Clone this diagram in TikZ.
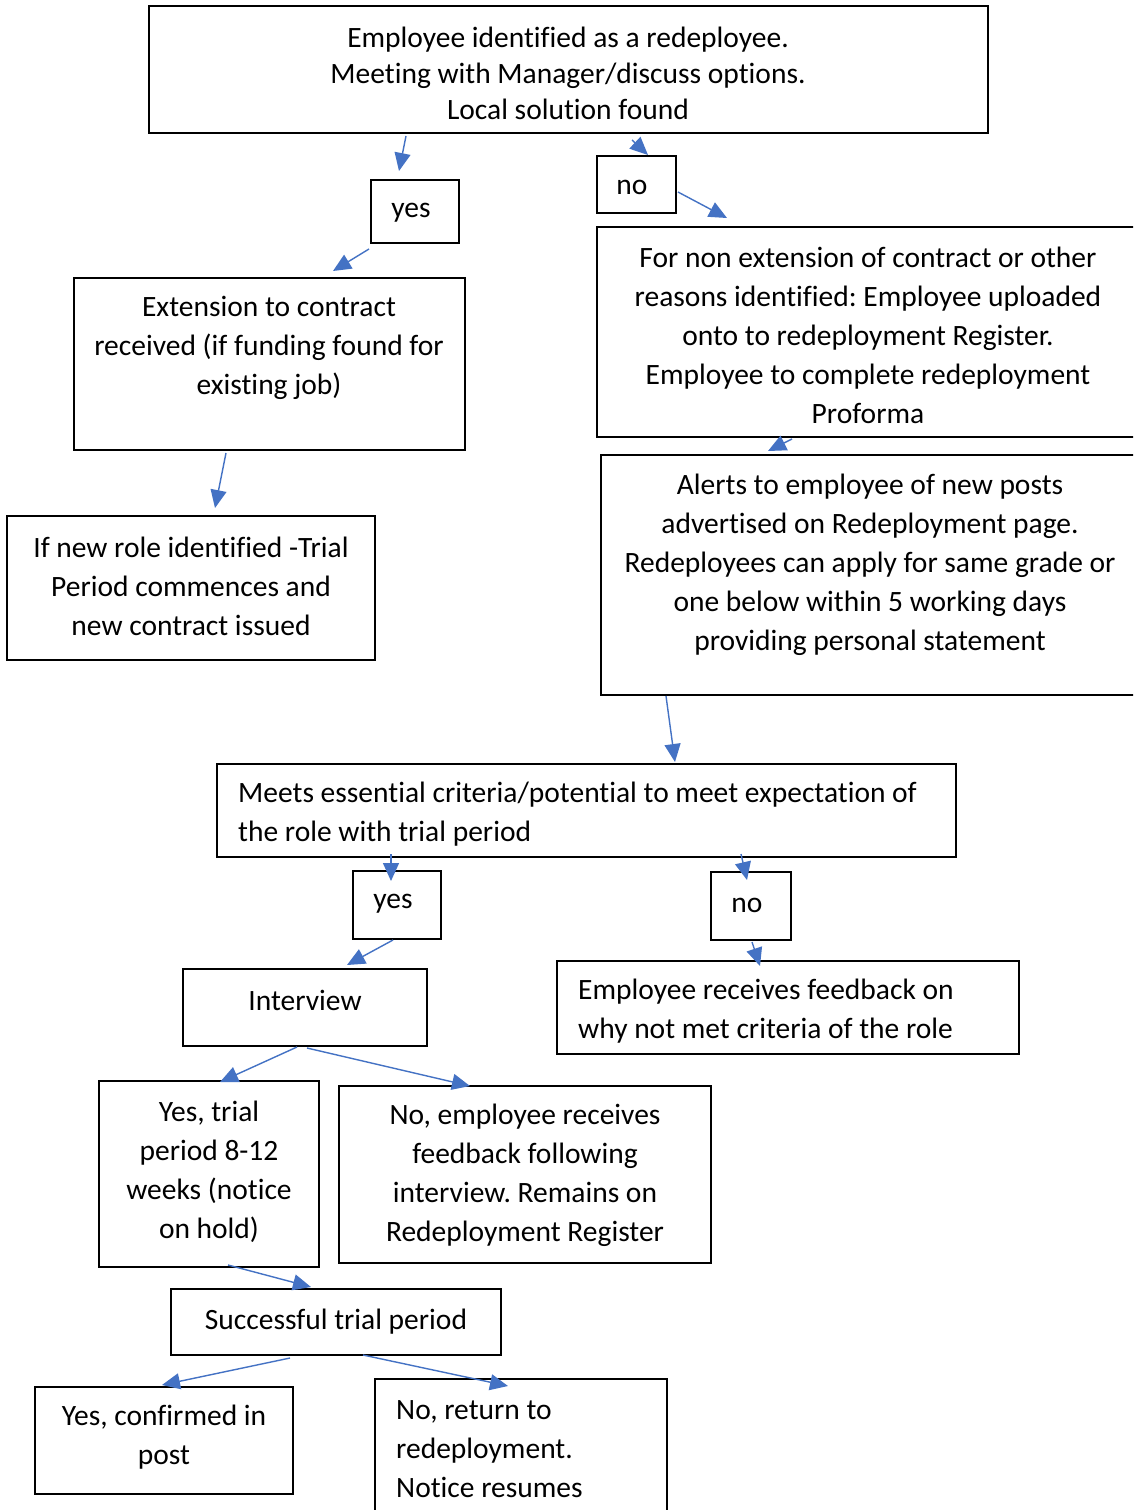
\documentclass[tikz,border=0pt]{standalone}
\usepackage{fontspec}
\setmainfont[Ligatures=NoCommon]{Carlito}
\frenchspacing
\usetikzlibrary{arrows.meta,calc}
\definecolor{arrblue}{HTML}{4472C4}
\tikzset{
  box/.style={draw=black, line width=2pt, inner sep=0pt},
  txt/.style={font=\fontsize{29.5}{39}\selectfont, align=center, inner sep=0pt, yshift=-2.5pt},
  ltxt/.style={txt, align=left, anchor=west},
  arr/.style={draw=arrblue, line width=1.4pt, -{Triangle[length=18pt,width=16pt]}}
}
\begin{document}
\begin{tikzpicture}[x=1pt,y=-1pt]
\path[use as bounding box, fill=white] (0,0) rectangle (1133,1510);
\clip (0,0) rectangle (1133,1510);
% boxes
\node[box, minimum width=839pt, minimum height=127pt] (b1) at (568.5,69.5) {};
\node[box, minimum width=88pt, minimum height=63pt] (yes1) at (415,211.5) {};
\node[box, minimum width=79pt, minimum height=57pt] (no1) at (636.5,184.5) {};
\node[box, minimum width=391pt, minimum height=172pt] (ext) at (269.5,364) {};
\node[box, minimum width=368pt, minimum height=144pt] (newrole) at (191,588) {};
\node[box, minimum width=553pt, minimum height=210pt] (regA) at (873.5,332) {};
\node[box, minimum width=549pt, minimum height=240pt] (alerts) at (875.5,575) {};
\node[box, minimum width=739pt, minimum height=93pt] (meets) at (586.5,810.5) {};
\node[box, minimum width=88pt, minimum height=68pt] (yes2) at (397,905) {};
\node[box, minimum width=80pt, minimum height=68pt] (no2) at (751,906) {};
\node[box, minimum width=244pt, minimum height=77pt] (interview) at (305,1007.5) {};
\node[box, minimum width=462pt, minimum height=93pt] (fb) at (788,1007.5) {};
\node[box, minimum width=220pt, minimum height=186pt] (yestrial) at (209,1174) {};
\node[box, minimum width=372pt, minimum height=177pt] (notrial) at (525,1174.5) {};
\node[box, minimum width=330pt, minimum height=66pt] (succ) at (336,1322) {};
\node[box, minimum width=258pt, minimum height=107pt] (conf) at (164,1440.5) {};
\node[box, minimum width=292pt, minimum height=151pt] (noret) at (521,1454.5) {};
% texts
\node[txt, font=\fontsize{29.5}{36}\selectfont] (t1) at (568,71) {Employee identified as a redeployee.\\Meeting with Manager/discuss options.\\Local solution found};
\node[txt] (tyes1) at (411,210) {yes};
\node[txt] (tno1) at (632,185) {no};
\node[txt] (text) at (269,345) {Extension to contract\\received (if funding found for\\existing job)};
\node[txt] (tnewrole) at (191,584) {If new role identified -Trial\\Period commences and\\new contract issued};
\node[txt] (tregA) at (868,333) {For non extension of contract or other\\reasons identified: Employee uploaded\\onto to redeployment Register.\\Employee to complete redeployment\\Proforma};
\node[txt] (talerts) at (870,562) {Alerts to employee of new posts\\advertised on Redeployment page.\\Redeployees can apply for same grade or\\one below within 5 working days\\providing personal statement};
\node[ltxt] (tmeets) at (238,812) {Meets essential criteria/potential to meet expectation of\\the role with trial period};
\node[txt] (tyes2) at (393,901) {yes};
\node[txt] (tno2) at (747,903) {no};
\node[txt] (tinterview) at (305,998) {Interview};
\node[ltxt] (tfb) at (578,1009) {Employee receives feedback on\\why not met criteria of the role};
\node[txt] (tyestrial) at (209,1169) {Yes, trial\\period 8-12\\weeks (notice\\on hold)};
\node[txt] (tnotrial) at (525,1173) {No, employee receives\\feedback following\\interview. Remains on\\Redeployment Register};
\node[txt] (tsucc) at (336,1319) {Successful trial period};
\node[txt] (tconf) at (164,1435) {Yes, confirmed in\\post};
\node[ltxt] (tnoret) at (396,1447) {No, return to\\redeployment.\\Notice resumes};
% arrows
\draw[arr] ($(b1.south)+(-162.5,2)$) -- ($(yes1.north)+(-16,-8)$);
\draw[arr] ($(b1.south)+(63.5,6)$) -- ($(no1.north)+(11.5,0)$);
\draw[arr] ($(no1.east)+(1,7.5)$) -- ($(regA.north)+(-146.5,-8)$);
\draw[arr] ($(yes1.south)+(-46,5)$) -- ($(ext.north)+(63.5,-6)$);
\draw[arr] ($(ext.south)+(-43.5,2)$) -- ($(newrole.north)+(24,-7)$);
\draw[arr] ($(regA.south)+(-81.5,1)$) -- ($(alerts.north)+(-107.5,-3)$);
\draw[arr] ($(alerts.south)+(-209.5,0)$) -- ($(meets.north)+(88.5,-1)$);
\draw[arr] ($(meets.south)+(-195.5,-4)$) -- ($(yes2.north)+(-6,11)$);
\draw[arr] ($(meets.south)+(154.5,-4)$) -- ($(no2.north)+(-4,9)$);
\draw[arr] ($(no2.south)+(1,1)$) -- ($(fb.north)+(-28,6)$);
\draw[arr] ($(yes2.south)+(-4,0)$) -- ($(interview.north)+(42,-3)$);
\draw[arr] ($(interview.south)+(-8,0)$) -- ($(yestrial.north)+(11,2)$);
\draw[arr] ($(interview.south)+(2,1)$) -- ($(notrial.north)+(-55,1)$);
\draw[arr] ($(yestrial.south)+(19,-3)$) -- ($(succ.north)+(-25,-1)$);
\draw[arr] ($(succ.south)+(-46,2)$) -- ($(conf.north)+(-2,-1)$);
\draw[arr] ($(succ.south)+(27,-1)$) -- ($(noret.north)+(-13,8)$);
\end{tikzpicture}
\end{document}
